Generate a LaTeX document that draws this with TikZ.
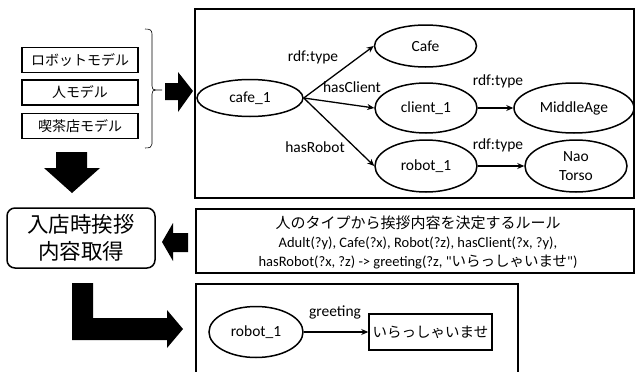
\documentclass[tikz,border=0pt]{standalone}
\usepackage{fontspec}
\setmainfont{Carlito}
\newfontfamily\jp{Noto Sans CJK JP}
\usetikzlibrary{shapes.geometric,arrows.meta}

\tikzset{
  frame/.style={draw=black, line width=1.5pt},
  oval/.style={ellipse, draw=black, line width=1.5pt, inner sep=0pt, font=\fontsize{15.5}{16}\selectfont},
  model/.style={draw=black, line width=1.5pt, minimum width=116pt, minimum height=25pt, inner sep=0pt, font=\jp\fontsize{14}{15}\selectfont},
  rel/.style={-{Stealth[length=7pt,width=6pt]}, line width=1.3pt},
  lbl/.style={font=\fontsize{15.5}{16}\selectfont, inner sep=0pt},
  block/.style={fill=black, draw=none}
}

\begin{document}
\begin{tikzpicture}[x=1pt, y=-1pt]
\useasboundingbox (0,0) rectangle (635,372);

% source models
\node[model] (robotmodel) at (80,60) {ロボットモデル};
\node[model] (humanmodel) at (80,92.5) {人モデル};
\node[model] (cafemodel)  at (80,126) {喫茶店モデル};

% brace grouping the models
\draw[line width=0.6pt] (145,29) .. controls (150,29) and (152,30) .. (152,34)
  -- (152,86) .. controls (152,89) and (153,90) .. (156,90) -- (162,90)
  (156,90) .. controls (153,90) and (152,91) .. (152,94)
  -- (152,144) .. controls (152,147) and (150,148) .. (145,148);

% block arrow: models -> graph
\fill[block] (165,83) -- (178,83) -- (178,72) -- (193,91) -- (178,112) -- (178,100) -- (165,100) -- cycle;

% block arrow: models -> greeting acquisition
\fill[block] (56,152) -- (87,152) -- (87,168) -- (100,168) -- (72,193) -- (44,168) -- (56,168) -- cycle;

% knowledge graph
\draw[frame] (195,9) rectangle (634,198);
\node[oval, minimum width=106pt, minimum height=37pt] (cafe1) at (250,98) {cafe\_1};
\node[oval, minimum width=102pt, minimum height=42pt] (cafe) at (425.5,46) {Cafe};
\node[oval, minimum width=102pt, minimum height=50pt] (client1) at (426,108) {client\_1};
\node[oval, minimum width=120pt, minimum height=50pt] (middleage) at (574,108) {MiddleAge};
\node[oval, minimum width=102pt, minimum height=52pt] (robot1) at (426,166) {robot\_1};
\node[oval, minimum width=102pt, minimum height=52pt, align=center, font=\fontsize{15.5}{19}\selectfont] (nao) at (576,166) {Nao\\Torso};

\draw[rel] (cafe1.east) -- (cafe.west);
\draw[rel] (cafe1.east) -- (client1.west);
\draw[rel] (cafe1.east) -- (robot1.west);
\draw[rel] (client1.east) -- (middleage.west);
\draw[rel] (robot1.east) -- (nao.west);

\node[lbl] (l1) at (313,57) {rdf:type};
\node[lbl] (l2) at (352,87) {hasClient};
\node[lbl] (l3) at (315,147) {hasRobot};
\node[lbl] (l4) at (498,81) {rdf:type};
\node[lbl] (l5) at (498,145) {rdf:type};

% greeting acquisition step
\node[draw=black, line width=1.5pt, rounded corners=8pt, minimum width=148pt, minimum height=60pt, align=center,
      font=\jp\fontsize{21.5}{27}\selectfont, inner sep=0pt] (acquire) at (81,238) {入店時挨拶\\内容取得};

% rule box
\draw[frame] (196,209) rectangle (634,273);
\node[font=\jp\fontsize{15}{16}\selectfont, inner sep=0pt] (rulehead) at (418,223) {人のタイプから挨拶内容を決定するルール};
\node[font=\fontsize{14.5}{16}\selectfont, inner sep=0pt] (rule1) at (418,243) {Adult(?y), Cafe(?x), Robot(?z), hasClient(?x, ?y),};
\node[font=\fontsize{14.5}{16}\selectfont, inner sep=0pt] (rule2) at (418,262)
  {hasRobot(?x, ?z) -> greeting(?z, \textquotedbl{\jp\fontsize{14.5}{16}\selectfont いらっしゃいませ}\textquotedbl)};

% block arrow: rule -> acquisition
\fill[block] (188,233) -- (173,233) -- (173,223) -- (162,242) -- (173,261) -- (173,252) -- (188,252) -- cycle;

% L-shaped block arrow: acquisition -> result
\fill[block] (72,283) -- (93,283) -- (93,318) -- (167,318) -- (167,310) -- (183,329) -- (167,348) -- (167,340) -- (72,340) -- cycle;

% result graph
\draw[frame] (196,373) -- (196,284) -- (518,284) -- (518,373);
\node[oval, minimum width=94pt, minimum height=51pt] (robot1b) at (256,332) {robot\_1};
\node[draw=black, line width=1.5pt, minimum width=123pt, minimum height=36pt, inner sep=0pt,
      font=\jp\fontsize{14.5}{16}\selectfont] (greet) at (430.5,332) {いらっしゃいませ};
\draw[rel] (robot1b.east) -- (greet.west);
\node[lbl] (l6) at (335,312) {greeting};
\end{tikzpicture}
\end{document}
